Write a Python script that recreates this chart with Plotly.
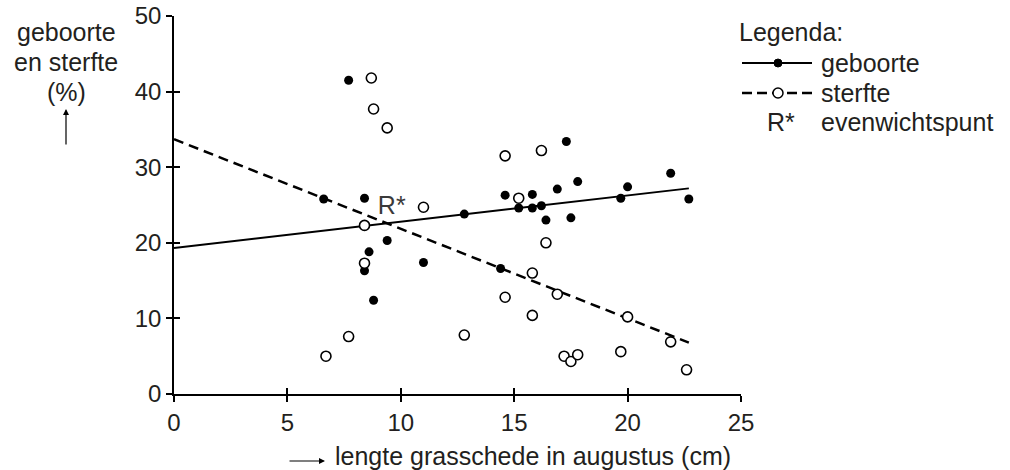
import plotly.graph_objects as go

# ---- data ----
birth_x = [6.6, 7.7, 8.4, 8.4, 8.6, 8.8, 9.4, 11.0, 12.8, 14.4, 14.6, 15.2,
           15.8, 15.8, 16.2, 16.4, 16.9, 17.3, 17.5, 17.8, 19.7, 20.0, 21.9, 22.7]
birth_y = [25.8, 41.5, 25.9, 16.3, 18.8, 12.4, 20.3, 17.4, 23.8, 16.6, 26.3, 24.6,
           26.4, 24.6, 24.9, 23.0, 27.1, 33.4, 23.3, 28.1, 25.9, 27.4, 29.2, 25.8]
death_x = [6.7, 7.7, 8.4, 8.4, 8.7, 8.8, 9.4, 11.0, 12.8, 14.6, 14.6, 15.2,
           15.8, 15.8, 16.2, 16.4, 16.9, 17.2, 17.5, 17.8, 19.7, 20.0, 21.9, 22.6]
death_y = [5.0, 7.6, 22.3, 17.3, 41.8, 37.7, 35.2, 24.7, 7.8, 31.5, 12.8, 25.9,
           16.0, 10.4, 32.2, 20.0, 13.2, 5.0, 4.3, 5.2, 5.6, 10.2, 6.9, 3.2]
fit_x = [0, 22.7]
birth_fit = [19.3, 27.2]
death_fit = [33.7, 6.8]
eq_label = "R*"
eq_x, eq_y = 9.6, 24.6
x_ticks = [0, 5, 10, 15, 20, 25]
y_ticks = [0, 10, 20, 30, 40, 50]

FONT = "Liberation Sans, Arial, sans-serif"
TXT = "#231f20"
FS = 25      # text size
TFS = 24     # tick size

fig = go.Figure()
fig.add_trace(go.Scatter(x=fit_x, y=birth_fit, mode="lines",
                         line=dict(color="black", width=2), hoverinfo="skip"))
fig.add_trace(go.Scatter(x=fit_x, y=death_fit, mode="lines",
                         line=dict(color="black", width=2.5, dash="10px,6px"), hoverinfo="skip"))
fig.add_trace(go.Scatter(x=birth_x, y=birth_y, mode="markers",
                         marker=dict(size=9, color="black", line=dict(width=0))))
fig.add_trace(go.Scatter(x=death_x, y=death_y, mode="markers",
                         marker=dict(size=10, color="white", line=dict(width=1.6, color="black"))))
fig.add_trace(go.Scatter(x=[eq_x], y=[eq_y], mode="text", text=[eq_label],
                         textfont=dict(family=FONT, size=FS, color="#3a3a3a")))

# overlay axes for ticks that cross the axis line
fig.add_trace(go.Scatter(x=[None], y=[None], xaxis="x2", yaxis="y2", showlegend=False))

axis_common = dict(showgrid=False, zeroline=False, showline=True, linecolor="black",
                   linewidth=1.5, ticks="outside", ticklen=6, tickwidth=1.5,
                   tickcolor="black", automargin=False,
                   tickfont=dict(family=FONT, size=TFS, color=TXT))

L, R, T, B = 174, 741, 16, 394
W, H = 1010, 470


def px(x):
    return (x - L) / (R - L)


def py(y):
    return (B - y) / (B - T)


fig.update_layout(
    width=W, height=H, showlegend=False,
    margin=dict(l=L, r=W - R, t=T, b=H - B, pad=0, autoexpand=False),
    plot_bgcolor="white", paper_bgcolor="white",
    xaxis=dict(range=[0, 25], tickvals=x_ticks, **axis_common),
    yaxis=dict(range=[0, 50], tickvals=y_ticks, **axis_common),
    xaxis2=dict(range=[0, 25], tickvals=x_ticks, overlaying="x", anchor="y2",
                showgrid=False, zeroline=False, showline=False, ticks="inside",
                ticklen=6, tickwidth=1.5, tickcolor="black", showticklabels=False),
    yaxis2=dict(range=[0, 50], tickvals=y_ticks, overlaying="y", anchor="x2",
                showgrid=False, zeroline=False, showline=False, ticks="inside",
                ticklen=6, tickwidth=1.5, tickcolor="black", showticklabels=False),
)

ann = []
def text(xp, yp, s, anchor="left", size=FS):
    ann.append(dict(x=px(xp), y=py(yp), xref="paper", yref="paper", text=s,
                    showarrow=False, xanchor=anchor, yanchor="middle",
                    font=dict(family=FONT, size=size, color=TXT)))

# y title
text(66, 32, "geboorte", anchor="center")
text(66, 62, "en sterfte", anchor="center")
text(66, 92, "(%)", anchor="center")
ann.append(dict(x=px(66), y=py(109), xref="paper", yref="paper", text="",
                showarrow=True, ax=0, ay=37, arrowhead=2, arrowsize=1,
                arrowwidth=1.2, arrowcolor="black"))
# x title
text(333, 456, "lengte grasschede in augustus (cm)")
ann.append(dict(x=px(325), y=py(461), xref="paper", yref="paper", text="",
                showarrow=True, ax=-37, ay=0, arrowhead=2, arrowsize=1,
                arrowwidth=1.2, arrowcolor="black"))

# legend
text(737, 32, "Legenda:")
text(819, 63, "geboorte")
text(819, 93, "sterfte")
text(781, 122, "R*", anchor="center")
text(819, 122, "evenwichtspunt")

shapes = [
    dict(type="line", xref="paper", yref="paper", x0=px(742), x1=px(812),
         y0=py(63), y1=py(63), line=dict(color="black", width=2)),
    dict(type="circle", xref="paper", yref="paper", xsizemode="pixel", ysizemode="pixel",
         xanchor=px(778), yanchor=py(63), x0=-4, x1=4, y0=-4, y1=4,
         fillcolor="black", line=dict(color="black", width=1)),
    dict(type="line", xref="paper", yref="paper", x0=px(742), x1=px(812),
         y0=py(93), y1=py(93), line=dict(color="black", width=2.5, dash="10px,5px")),
    dict(type="circle", xref="paper", yref="paper", xsizemode="pixel", ysizemode="pixel",
         xanchor=px(778), yanchor=py(93), x0=-5, x1=5, y0=-5, y1=5,
         fillcolor="white", line=dict(color="black", width=1.5)),
]

fig.update_layout(annotations=ann, shapes=shapes)
fig.write_html("out.html", config={"displayModeBar": False},
               post_script="document.body.style.margin='0';document.body.style.overflow='hidden';")
